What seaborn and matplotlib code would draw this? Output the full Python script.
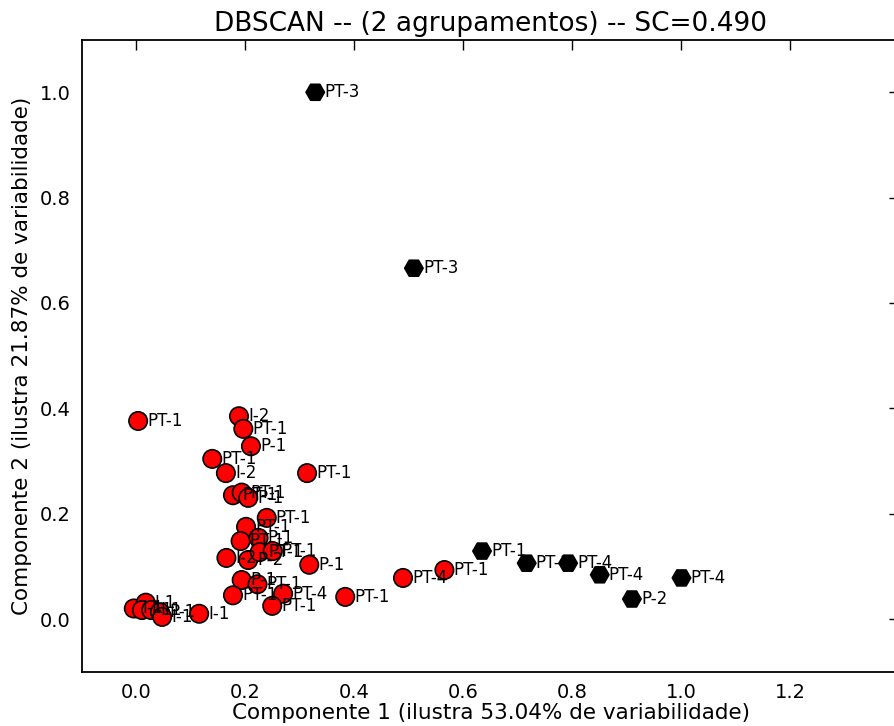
import matplotlib
matplotlib.use("Agg")
import matplotlib.pyplot as plt
import seaborn as sns
import pandas as pd

# ---- data ----
x_vals = [0.003, 0.188, 0.196, 0.210, 0.139, 0.164, 0.313, 0.177, 0.193, 0.205,
          0.239, 0.201, 0.191, 0.224, 0.165, 0.205, 0.226, 0.250, 0.317,
          0.193, 0.222, 0.177, 0.269, 0.249, 0.383, 0.489, 0.565,
          -0.005, 0.017, 0.010, 0.027, 0.043, 0.047, 0.115,
          0.328, 0.509, 0.634, 0.716, 0.792, 0.850, 1.000, 0.909]
y_vals = [0.376, 0.385, 0.361, 0.328, 0.304, 0.277, 0.277, 0.235, 0.240, 0.230,
          0.192, 0.175, 0.148, 0.154, 0.116, 0.112, 0.127, 0.129, 0.103,
          0.074, 0.066, 0.045, 0.048, 0.025, 0.042, 0.078, 0.093,
          0.020, 0.031, 0.017, 0.017, 0.013, 0.004, 0.010,
          1.000, 0.666, 0.129, 0.106, 0.106, 0.084, 0.078, 0.038]
labels = ["PT-1", "I-2", "PT-1", "P-1", "PT-1", "I-2", "PT-1", "PT-1", "PT-1", "P-1",
          "PT-1", "PT-1", "PT-1", "P-1", "I-2", "P-2", "PT-1", "PT-1", "P-1",
          "P-1", "PT-1", "PT-1", "PT-4", "PT-1", "PT-1", "PT-4", "PT-1",
          "I-1", "I-1", "I-1", "I-1", "P-1", "I-1", "I-1",
          "PT-3", "PT-3", "PT-1", "PT-1", "PT-4", "PT-4", "PT-4", "P-2"]
cluster = [0] * 34 + [1] * 8

title = "DBSCAN -- (2 agrupamentos) -- SC=0.490"
xlabel = "Componente 1 (ilustra 53.04% de variabilidade)"
ylabel = "Componente 2 (ilustra 21.87% de variabilidade)"
xticks = [0.0, 0.2, 0.4, 0.6, 0.8, 1.0, 1.2]
yticks = [0.0, 0.2, 0.4, 0.6, 0.8, 1.0]

df = pd.DataFrame({"x": x_vals, "y": y_vals, "label": labels, "cluster": cluster})

sns.set_style("white")
plt.rcParams["font.family"] = ["DejaVu Sans"]
plt.rcParams["text.color"] = "black"
plt.rcParams["axes.labelcolor"] = "black"

fig = plt.figure(figsize=(8.95, 7.26), dpi=100)
ax = fig.add_axes([82 / 895, (726 - 671.7) / 726, (899.5 - 82) / 895, (671.7 - 39.6) / 726])

sns.scatterplot(data=df, x="x", y="y", hue="cluster", style="cluster",
                palette={0: "#ff0000", 1: "#000000"}, markers={0: "o", 1: "H"},
                s=175, edgecolor="black", linewidth=1.2, legend=False, ax=ax, zorder=3)

for xv, yv, lab in zip(x_vals, y_vals, labels):
    ax.annotate(lab, (xv, yv), xytext=(6.5, 0), textcoords="offset points",
                ha="left", va="center", fontsize=12, color="black", zorder=4)

ax.set_xlim(-0.1, 1.4)
ax.set_ylim(-0.1, 1.1)
ax.set_xticks(xticks)
ax.set_yticks(yticks)
ax.set_xticklabels([f"{t:.1f}" for t in xticks])
ax.set_yticklabels([f"{t:.1f}" for t in yticks])
ax.tick_params(direction="in", length=7, width=1, top=True, right=True,
               labelsize=14, colors="black", pad=8)
for sp in ax.spines.values():
    sp.set_visible(True)
    sp.set_color("black")
    sp.set_linewidth(1.3)

ax.set_title(title, fontsize=19, pad=6, color="black")
ax.set_xlabel(xlabel, fontsize=15.5, labelpad=1, color="black")
ax.set_ylabel(ylabel, fontsize=15.5, labelpad=6, color="black")

fig.savefig("out.png", dpi=100)
